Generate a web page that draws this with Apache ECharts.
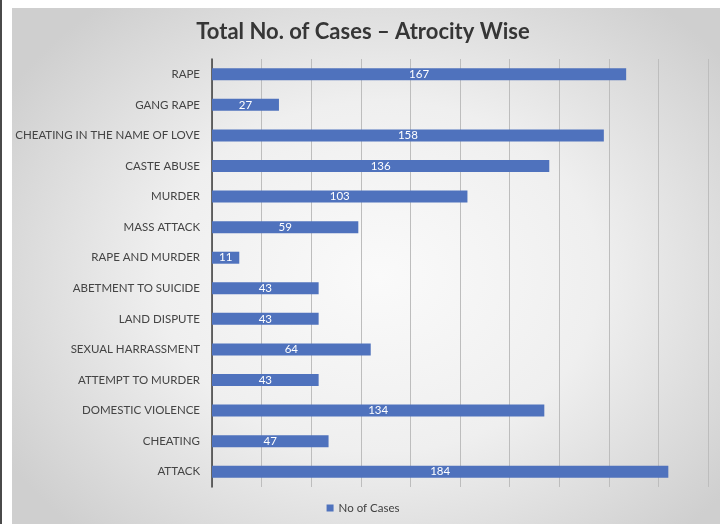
<!DOCTYPE html>
<html>
<head>
<meta charset="utf-8">
<script src="https://cdn.jsdelivr.net/npm/echarts@6/dist/echarts.min.js"></script>
<style>
html,body{margin:0;padding:0;width:726px;height:524px;overflow:hidden;background:#fff;}
#edge{position:absolute;left:0;top:0;width:2px;height:524px;background:#4a4a4a;}
#panel{position:absolute;left:12px;top:8px;width:708px;height:516px;
background:radial-gradient(ellipse 62% 68% at 52% 52%, #fafafa 0%, #efefef 50%, #cfcfcf 100%);}
#chart{position:absolute;left:0;top:0;width:726px;height:524px;}
</style>
</head>
<body>
<div id="edge"></div>
<div id="panel"></div>
<div id="chart"></div>
<script>
const titleText = 'Total No. of Cases – Atrocity Wise';
const seriesName = 'No of Cases';
const categories = ['RAPE','GANG RAPE','CHEATING IN THE NAME OF LOVE','CASTE ABUSE','MURDER','MASS ATTACK','RAPE AND MURDER','ABETMENT TO SUICIDE','LAND DISPUTE','SEXUAL HARRASSMENT','ATTEMPT TO MURDER','DOMESTIC VIOLENCE','CHEATING','ATTACK'];
const values = [167,27,158,136,103,59,11,43,43,64,43,134,47,184];

const chart = echarts.init(document.getElementById('chart'), null, {renderer:'canvas'});
chart.setOption({
  backgroundColor: 'transparent',
  animation: false,
  title: {
    text: titleText, left: 'center', top: 16,
    textStyle: {fontFamily: 'Lato', fontWeight: 'bold', fontSize: 22, color: '#363636'}
  },
  legend: {
    data: [seriesName], bottom: 5, left: 'center',
    icon: 'rect', itemWidth: 7, itemHeight: 7, itemGap: 6,
    textStyle: {fontFamily: 'Lato', fontSize: 11.5, color: '#404040'}
  },
  grid: {left: 212, right: 18, top: 59, bottom: 37, containLabel: false},
  xAxis: {
    type: 'value', min: 0, max: 200, interval: 20,
    axisLabel: {show: false}, axisLine: {show: false}, axisTick: {show: false},
    splitLine: {show: true, lineStyle: {color: '#bdbdbd', width: 1}}
  },
  yAxis: {
    type: 'category', data: categories, inverse: true,
    axisLine: {show: true, lineStyle: {color: '#3c3c3c', width: 1.5}},
    axisTick: {show: false},
    axisLabel: {fontFamily: 'Lato', fontSize: 11.5, color: '#444444', margin: 12}
  },
  series: [{
    name: seriesName, type: 'bar', data: values, barWidth: 12,
    itemStyle: {color: '#4f72bd'},
    label: {show: true, position: 'inside', color: '#ffffff', fontFamily: 'Lato', fontSize: 11.5}
  }]
});
</script>
</body>
</html>
